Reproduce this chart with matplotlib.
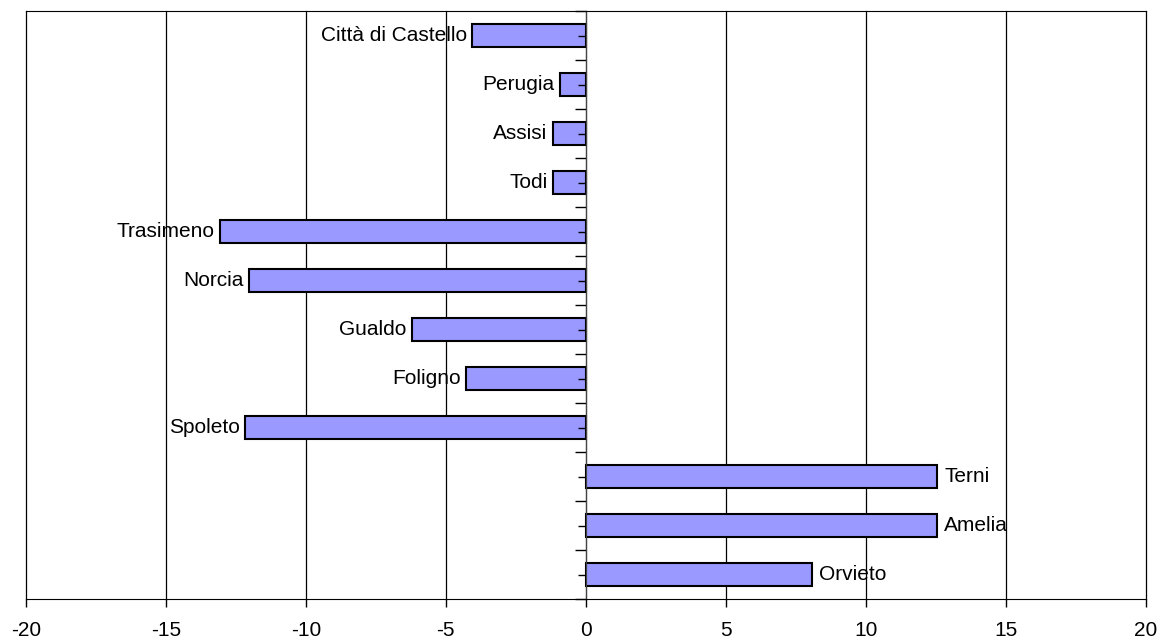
import matplotlib
matplotlib.use("Agg")
import matplotlib.pyplot as plt
import numpy as np

plt.rcParams['font.family'] = ['Liberation Sans', 'DejaVu Sans']

# values, top to bottom
zones = ["Città di Castello", "Perugia", "Assisi", "Todi", "Trasimeno", "Norcia",
         "Gualdo", "Foligno", "Spoleto", "Terni", "Amelia", "Orvieto"]
values = [-4.05, -0.92, -1.17, -1.17, -13.05, -12.02,
          -6.2, -4.28, -12.17, 12.54, 12.54, 8.08]
xticks = [-20, -15, -10, -5, 0, 5, 10, 15, 20]

fig = plt.figure(figsize=(11.58, 6.38), dpi=100)
ax = fig.add_axes([25.7/1158, (638-599)/638, (1146-25.7)/1158, (599-11)/638])

n = len(zones)
ypos = np.arange(n)[::-1]

# vertical grid lines behind the bars
for xv in xticks:
    ax.axvline(xv, color='black', lw=0.9, zorder=0, clip_on=False)

ax.barh(ypos, values, height=0.46, color='#9999ff', edgecolor='black',
        linewidth=1.5, zorder=1)

for y, v, name in zip(ypos, values, zones):
    if v < 0:
        ax.annotate(name, (v, y), xytext=(-4, 0), textcoords='offset points',
                    ha='right', va='center', fontsize=15)
    else:
        ax.annotate(name, (v, y), xytext=(5, 0), textcoords='offset points',
                    ha='left', va='center', fontsize=15)

ax.set_xlim(-20, 20)
ax.set_ylim(-0.5, n - 0.5)
ax.set_xticks(xticks)
ax.set_xticklabels([str(t) for t in xticks], fontsize=15)
ax.tick_params(axis='x', direction='out', length=6, width=1, pad=10)

# category axis sits on zero
ax.spines['left'].set_position(('data', 0))
ax.spines['left'].set_color('#444444')
ax.spines['right'].set_visible(False)
ax.set_yticks(ypos)
ax.set_yticks(np.arange(n + 1) - 0.5, minor=True)
ax.set_yticklabels([])
ax.tick_params(axis='y', which='major', direction='out', length=6, width=1)
ax.tick_params(axis='y', which='minor', direction='out', length=8, width=1)

fig.savefig("out.png", dpi=100)
